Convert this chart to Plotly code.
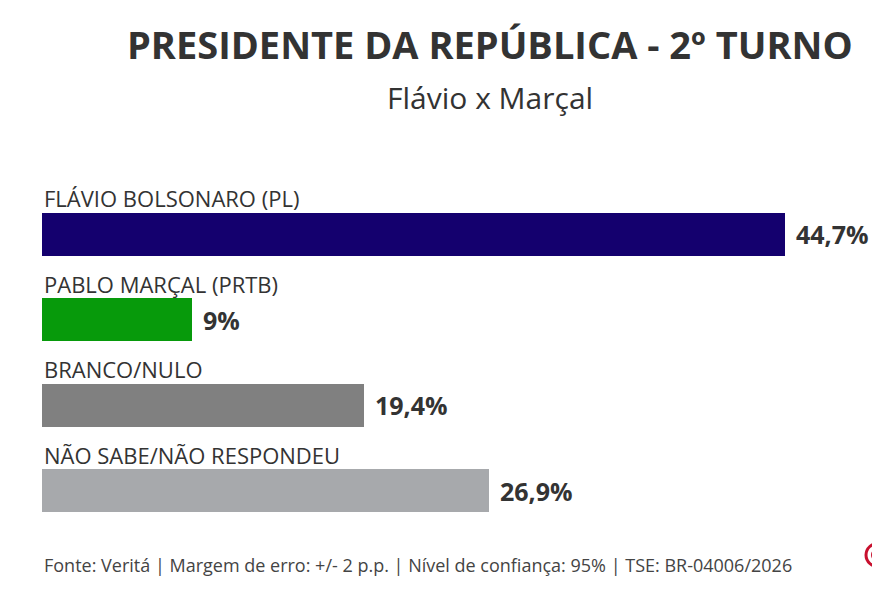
import plotly.graph_objects as go

# dados da pesquisa
candidatos = ["FLÁVIO BOLSONARO (PL)", "PABLO MARÇAL (PRTB)", "BRANCO/NULO", "NÃO SABE/NÃO RESPONDEU"]
valores = [44.7, 9, 19.4, 26.9]
rotulos = ["44,7%", "9%", "19,4%", "26,9%"]
cores = ["#14006e", "#079a0b", "#808080", "#a7a9ac"]

titulo = "PRESIDENTE DA REPÚBLICA - 2º TURNO"
subtitulo = "Flávio x Marçal"
fonte = "Fonte: Veritá | Margem de erro: +/- 2 p.p. | Nível de confiança: 95% | TSE: BR-04006/2026"

FONT = "Open Sans"
TXT = "#333333"

pos = list(range(len(candidatos)))

# a pagina tem 8px de margem no body: a figura comeca em (8, 8)
W, H = 872, 579
ML, MT, PH = 34, 175, 359
MB = H - MT - PH
PW = W - ML


def px_x(p):
    return (p - 8 - ML) / PW


def px_y(p):
    return (H - MB - (p - 8)) / PH


fig = go.Figure()
fig.add_trace(go.Bar(
    x=valores,
    y=pos,
    orientation="h",
    marker=dict(color=cores, line=dict(width=0)),
    width=0.506,
    hoverinfo="skip",
))

annotations = []
for i, (nome, v, r) in enumerate(zip(candidatos, valores, rotulos)):
    # nome acima da barra
    annotations.append(dict(
        x=0, y=i - 0.42, xref="x", yref="y",
        text=nome, showarrow=False,
        xanchor="left", yanchor="middle",
        font=dict(family=FONT, size=22, color=TXT),
    ))
    # valor ao lado
    annotations.append(dict(
        x=v, y=i, xref="x", yref="y",
        text="<b>" + r + "</b>", showarrow=False,
        xanchor="left", yanchor="middle", xshift=9,
        font=dict(family=FONT, size=25, color=TXT),
    ))

annotations.append(dict(
    x=px_x(490), y=px_y(44), xref="paper", yref="paper",
    xanchor="center", yanchor="middle",
    text="<b>" + titulo + "</b>", showarrow=False,
    font=dict(family=FONT, size=38, color=TXT),
))
annotations.append(dict(
    x=px_x(490), y=px_y(97), xref="paper", yref="paper",
    xanchor="center", yanchor="middle",
    text=subtitulo, showarrow=False,
    font=dict(family=FONT, size=30, color=TXT),
))
annotations.append(dict(
    x=px_x(42), y=px_y(565), xref="paper", yref="paper",
    xanchor="left", yanchor="middle",
    text=fonte, showarrow=False,
    font=dict(family=FONT, size=18, color="#444444"),
))

fig.update_layout(
    width=W,
    height=H,
    margin=dict(l=ML, r=0, t=MT, b=MB),
    paper_bgcolor="white",
    plot_bgcolor="white",
    showlegend=False,
    bargap=0,
    xaxis=dict(range=[0, PW / 16.62], visible=False, fixedrange=True),
    yaxis=dict(range=[3.6, -0.6], visible=False, fixedrange=True),
    annotations=annotations,
)

# logo vermelho cortado no canto
fig.add_shape(type="circle", xref="paper", yref="paper",
              x0=px_x(866), x1=px_x(892), y0=px_y(567), y1=px_y(543),
              line=dict(color="#c8102e", width=3))
fig.add_shape(type="circle", xref="paper", yref="paper",
              x0=px_x(872), x1=px_x(886), y0=px_y(561), y1=px_y(549),
              line=dict(color="#c8102e", width=2))

fig.write_html("out.html", config={"displayModeBar": False})
